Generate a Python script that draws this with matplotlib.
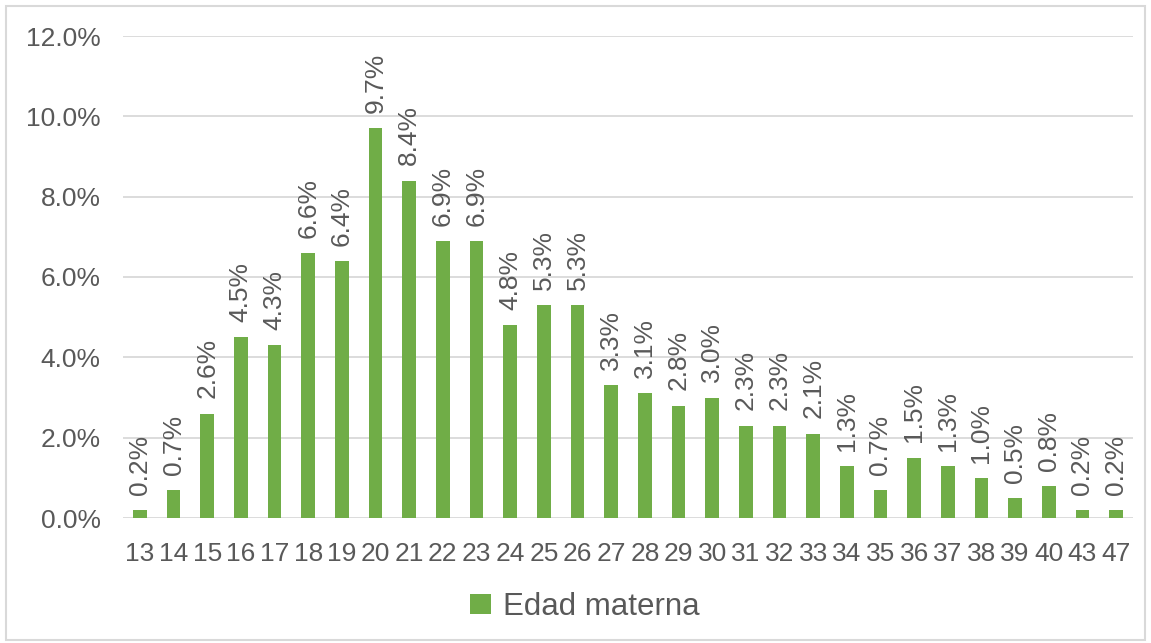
import matplotlib
matplotlib.use("Agg")
import matplotlib.pyplot as plt
from matplotlib.patches import Rectangle
from matplotlib.ticker import FuncFormatter, MultipleLocator

# Maternal age distribution
ages = ["13", "14", "15", "16", "17", "18", "19", "20", "21", "22", "23", "24",
        "25", "26", "27", "28", "29", "30", "31", "32", "33", "34", "35", "36",
        "37", "38", "39", "40", "43", "47"]
shares = [0.2, 0.7, 2.6, 4.5, 4.3, 6.6, 6.4, 9.7, 8.4, 6.9, 6.9, 4.8,
          5.3, 5.3, 3.3, 3.1, 2.8, 3.0, 2.3, 2.3, 2.1, 1.3, 0.7, 1.5,
          1.3, 1.0, 0.5, 0.8, 0.2, 0.2]
series_name = "Edad materna"

BAR = "#70AD47"
TEXT = "#595959"
GRID = "#D9D9D9"

plt.rcParams["font.family"] = ["Liberation Sans", "DejaVu Sans"]

W, H = 1151, 643
fig = plt.figure(figsize=(W / 100, H / 100), dpi=100)
fig.patch.set_facecolor("white")

# outer chart border
fig.add_artist(Rectangle((6 / W, 3 / H), (W - 12) / W, (H - 9) / H,
                         transform=fig.transFigure, fill=False,
                         edgecolor=GRID, linewidth=1.5))

ax = fig.add_axes([123 / W, 1 - 518 / H, (1133 - 123) / W, (518 - 36) / H])
x = list(range(len(ages)))
vals = [v / 100 for v in shares]
bars = ax.bar(x, vals, width=0.4, color=BAR, label=series_name, zorder=3)

for xi, v, s in zip(x, vals, shares):
    ax.annotate(f"{s:.1f}%", (xi, v), xytext=(0, 11), textcoords="offset points",
                rotation=90, ha="center", va="bottom", fontsize=19, color=TEXT)

ax.set_xlim(-0.5, len(ages) - 0.5)
ax.set_ylim(0, 0.12)
ax.yaxis.set_major_locator(MultipleLocator(0.02))
ax.yaxis.set_major_formatter(FuncFormatter(lambda y, _: f"{y * 100:.1f}%"))
ax.set_xticks(x)
ax.set_xticklabels(ages)
ax.grid(axis="y", color=GRID, linewidth=1.3, zorder=0)
for sp in ax.spines.values():
    sp.set_visible(False)
ax.tick_params(axis="both", length=0, labelsize=19, colors=TEXT)
ax.tick_params(axis="x", pad=17)
ax.tick_params(axis="y", pad=16)

leg = fig.legend(handles=[bars], labels=[series_name], loc="center",
                 bbox_to_anchor=(585 / W, 1 - 607 / H), frameon=False,
                 fontsize=22.5, handlelength=0.65, handleheight=0.65,
                 handletextpad=0.4, labelcolor=TEXT)

fig.savefig("out.png", dpi=100, facecolor="white")
